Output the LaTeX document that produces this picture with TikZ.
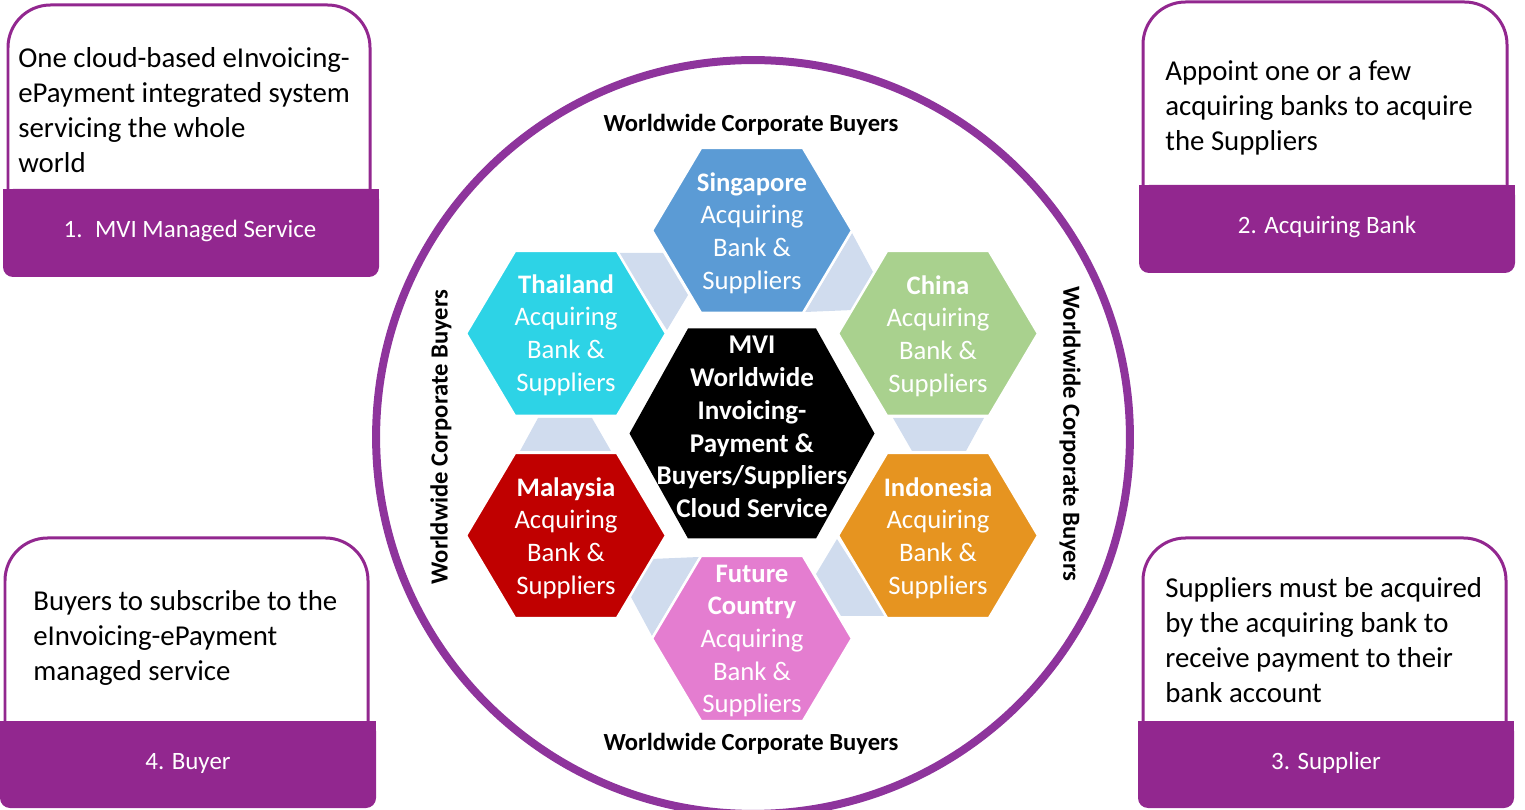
\documentclass[tikz,border=0pt]{standalone}
\usepackage{fontspec}
\setmainfont{Carlito}

\definecolor{boxpurple}{RGB}{146,39,143}
\definecolor{ringpurple}{RGB}{142,52,156}
\definecolor{sgblue}{RGB}{91,155,213}
\definecolor{thcyan}{RGB}{45,211,230}
\definecolor{cngreen}{RGB}{169,209,142}
\definecolor{myred}{RGB}{192,0,0}
\definecolor{idorange}{RGB}{230,148,32}
\definecolor{futpink}{RGB}{228,125,208}
\definecolor{linkblue}{RGB}{208,220,238}

\begin{document}
\begin{tikzpicture}[x=0.02cm,y=-0.02cm,
  hextext/.style={text=white,align=center,inner sep=0pt,
    font=\fontsize{15.2}{18.6}\selectfont},
  boxtext/.style={anchor=west,align=left,inner sep=0pt,
    font=\fontsize{16.4}{20}\selectfont},
  bartext/.style={text=white,inner sep=0pt,
    font=\fontsize{14.2}{17}\selectfont},
  ringtext/.style={inner sep=0pt,font=\bfseries\fontsize{14}{17}\selectfont}]

\useasboundingbox (0,0) rectangle (1525,810);

% Outer ring
\draw[ringpurple,line width=0.16cm] (753,437) circle (7.54cm);

% Links between the country hexagons
\fill[linkblue] (618,253) -- (663,253) -- (688,295) -- (667,330) -- cycle;
\fill[linkblue] (852,233) -- (873,272) -- (853,310) -- (805,312) -- cycle;
\fill[linkblue] (893,418) -- (984,418) -- (966,451) -- (912,451) -- cycle;
\fill[linkblue] (886,616) -- (841,616) -- (816,574) -- (837,539) -- cycle;
\fill[linkblue] (652,636) -- (631,597) -- (651,559) -- (699,557) -- cycle;
\fill[linkblue] (538,418) -- (592,418) -- (611,451) -- (520,451) -- cycle;

% Country hexagons
\foreach \cx/\cy/\col in {752/230.5/sgblue, 566/333.5/thcyan, 938/333.5/cngreen,
    566/535.5/myred, 938/535.5/idorange, 752/638.5/futpink}
  \filldraw[fill=\col,draw=white,line width=0.05cm]
    (\cx-100,\cy) -- (\cx-51,\cy-82.5) -- (\cx+51,\cy-82.5)
    -- (\cx+100,\cy) -- (\cx+51,\cy+82.5) -- (\cx-51,\cy+82.5) -- cycle;

% Centre hexagon
\fill[black] (629.5,433.5) -- (688,328.5) -- (816,328.5) -- (874.5,433.5)
  -- (816,538.5) -- (688,538.5) -- cycle;

\node[hextext] (sing) at (752,233) {\textbf{Singapore}\\Acquiring\\Bank \&\\Suppliers};
\node[hextext] (thai) at (566,335) {\textbf{Thailand}\\Acquiring\\Bank \&\\Suppliers};
\node[hextext] (china) at (938,336) {\textbf{China}\\Acquiring\\Bank \&\\Suppliers};
\node[hextext] (malay) at (566,538) {\textbf{Malaysia}\\Acquiring\\Bank \&\\Suppliers};
\node[hextext] (indo) at (938,538) {\textbf{Indonesia}\\Acquiring\\Bank \&\\Suppliers};
\node[hextext] (future) at (752,641) {\textbf{Future}\\\textbf{Country}\\Acquiring\\Bank \&\\Suppliers};
\node[hextext,font=\bfseries\fontsize{15.4}{18.6}\selectfont] (mvi) at (752,427)
  {MVI\\Worldwide\\Invoicing-\\Payment \&\\Buyers/Suppliers\\Cloud Service};

% Buyers round the ring
\node[ringtext] (wcbTop) at (751,125) {Worldwide Corporate Buyers};
\node[ringtext] (wcbBottom) at (751,744) {Worldwide Corporate Buyers};
\node[ringtext,rotate=90] (wcbLeft) at (441,437) {Worldwide Corporate Buyers};
\node[ringtext,rotate=-90] (wcbRight) at (1070,434) {Worldwide Corporate Buyers};

% Corner boxes: white top with purple frame, purple bar below
\draw[boxpurple,line width=0.06cm,rounded corners=0.85cm]
  (8,195) -- (8,5) -- (370,5) -- (370,195);
\fill[boxpurple,rounded corners=0.2cm] (3,189) rectangle (379,277);
\fill[boxpurple] (3,189) rectangle (379,220);

\draw[boxpurple,line width=0.06cm,rounded corners=0.85cm]
  (1143,190) -- (1143,2) -- (1507,2) -- (1507,190);
\fill[boxpurple,rounded corners=0.2cm] (1139,185) rectangle (1515,273);
\fill[boxpurple] (1139,185) rectangle (1515,215);

\draw[boxpurple,line width=0.06cm,rounded corners=0.85cm]
  (1143,727) -- (1143,538) -- (1506,538) -- (1506,727);
\fill[boxpurple,rounded corners=0.2cm] (1138,721) rectangle (1514,808);
\fill[boxpurple] (1138,721) rectangle (1514,750);

\draw[boxpurple,line width=0.06cm,rounded corners=0.85cm]
  (5,727) -- (5,538) -- (368,538) -- (368,727);
\fill[boxpurple,rounded corners=0.2cm] (0,721) rectangle (376,808);
\fill[boxpurple] (0,721) rectangle (376,750);

\node[boxtext] (mviText) at (18,110)
  {One cloud-based eInvoicing-\\ePayment integrated system\\servicing the whole\\world};
\node[boxtext] (bankText) at (1165,108)
  {Appoint one or a few\\acquiring banks to acquire\\the Suppliers};
\node[boxtext] (supText) at (1165,640)
  {Suppliers must be acquired\\by the acquiring bank to\\receive payment to their\\bank account};
\node[boxtext] (buyText) at (33,638)
  {Buyers to subscribe to the\\eInvoicing-ePayment\\managed service};

\node[bartext] (mviBar) at (190,231) {1.\hspace{0.5em}MVI Managed Service};
\node[bartext] (bankBar) at (1327,227) {2. Acquiring Bank};
\node[bartext] (supBar) at (1326,763) {3. Supplier};
\node[bartext] (buyBar) at (188,763) {4. Buyer};

\end{tikzpicture}
\end{document}
